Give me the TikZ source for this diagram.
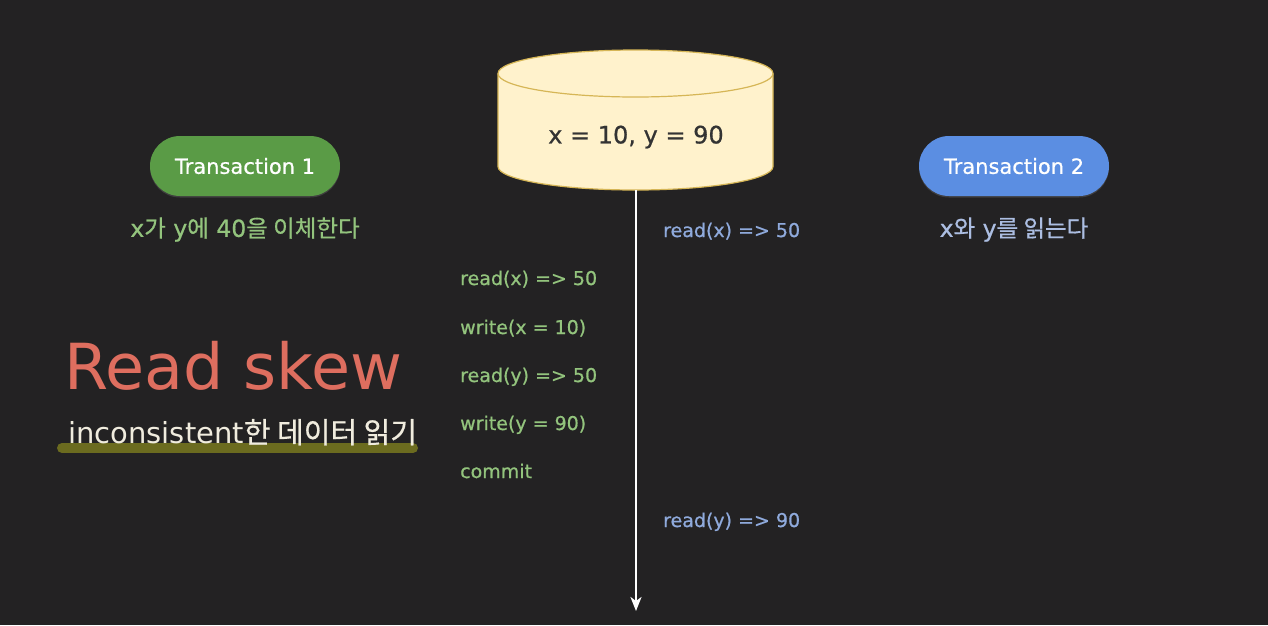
\documentclass[tikz,border=0pt]{standalone}
\usepackage{fontspec}
\setmainfont{DejaVu Sans}
\newfontfamily\heavy{DejaVu Sans}[FakeBold=0.7]
\newfontfamily\kr{Noto Sans CJK KR}[FakeBold=0.6]
\usepackage{xcolor}
\usetikzlibrary{arrows.meta, positioning, shadows}
\definecolor{bgdark}{RGB}{35,34,35}
\definecolor{tgreen}{RGB}{90,155,70}
\definecolor{tblue}{RGB}{91,142,226}
\definecolor{opgreen}{RGB}{147,196,125}
\definecolor{opblue}{RGB}{143,170,220}
\definecolor{subblue}{RGB}{172,190,226}
\definecolor{skewred}{RGB}{222,110,95}
\definecolor{cream}{RGB}{240,236,222}
\definecolor{olive}{RGB}{107,107,31}
\definecolor{dbfill}{RGB}{255,242,204}
\definecolor{dbline}{RGB}{214,182,86}
\tikzset{
    pill/.style={rectangle, rounded corners=30pt, minimum width=190pt, minimum height=60pt, text=white, font=\heavy\fontsize{21}{25}\selectfont, drop shadow={opacity=0.3, shadow xshift=0pt, shadow yshift=-1.5pt}},
    op/.style={inner sep=0pt, text height=15pt, text depth=5pt, anchor=west, font=\heavy\fontsize{19}{23}\selectfont},
    sub/.style={inner sep=0pt, font=\heavy\fontsize{23.5}{27}\selectfont}
}
\begin{document}
\begin{tikzpicture}[x=1pt, y=-1pt, >={Stealth[length=14pt, width=11pt, inset=4pt]}]
    \fill[bgdark] (0,0) rectangle (1268,625);
    \useasboundingbox (0,0) rectangle (1268,625);

    % database
    \filldraw[fill=dbfill, draw=dbline, line width=1.2pt] (498,73.5) -- (498,166.5) arc[start angle=180, end angle=0, x radius=137.5, y radius=23.5] -- (773,73.5) arc[start angle=0, end angle=-180, x radius=137.5, y radius=23.5] -- cycle;
    \draw[dbline, line width=1.2pt] (498,73.5) arc[start angle=180, end angle=0, x radius=137.5, y radius=23.5];
    \node (db) at (636,137) [text=black!80, font=\heavy\fontsize{24}{28}\selectfont] {x = 10, y = 90};

    % timeline
    \coordinate (dbbot) at (636,190);
    \coordinate (tend) at (636,611);
    \draw[->, white, line width=2pt] (dbbot) -- (tend);

    % transactions
    \node (t1) [pill, fill=tgreen] at (245,166) {Transaction 1};
    \node (t1sub) [sub, text=opgreen, below=21pt of t1] {x{\kr 가} y{\kr 에} 40{\kr 을 이체한다}};
    \node (t2) [pill, fill=tblue] at (1014,166) {Transaction 2};
    \node (t2sub) [sub, text=subblue, below=21pt of t2] {x{\kr 와} y{\kr 를 읽는다}};

    % transaction 1 steps
    \node (r1) [op, text=opgreen] at (460,280) {read(x) => 50};
    \node (w1) [op, text=opgreen] at (460,329) {write(x = 10)};
    \node (r2) [op, text=opgreen] at (460,377) {read(y) => 50};
    \node (w2) [op, text=opgreen] at (460,425) {write(y = 90)};
    \node (cm) [op, text=opgreen] at (460,473) {commit};

    % transaction 2 steps
    \node (rx) [op, text=opblue] at (663,232) {read(x) => 50};
    \node (ry) [op, text=opblue] at (663,522) {read(y) => 90};

    % title
    \draw[olive, line width=10pt, line cap=round] (62,448) -- (413,448);
    \node (title) [anchor=west, inner sep=0pt, text=skewred, font=\fontsize{63.5}{70}\selectfont] at (64,366) {Read skew};
    \node (subtitle) [anchor=base west, inner sep=0pt, text=cream, font=\fontsize{29}{33}\selectfont] at (68,443) {inconsistent{\kr 한 데이터 읽기}};
\end{tikzpicture}
\end{document}
